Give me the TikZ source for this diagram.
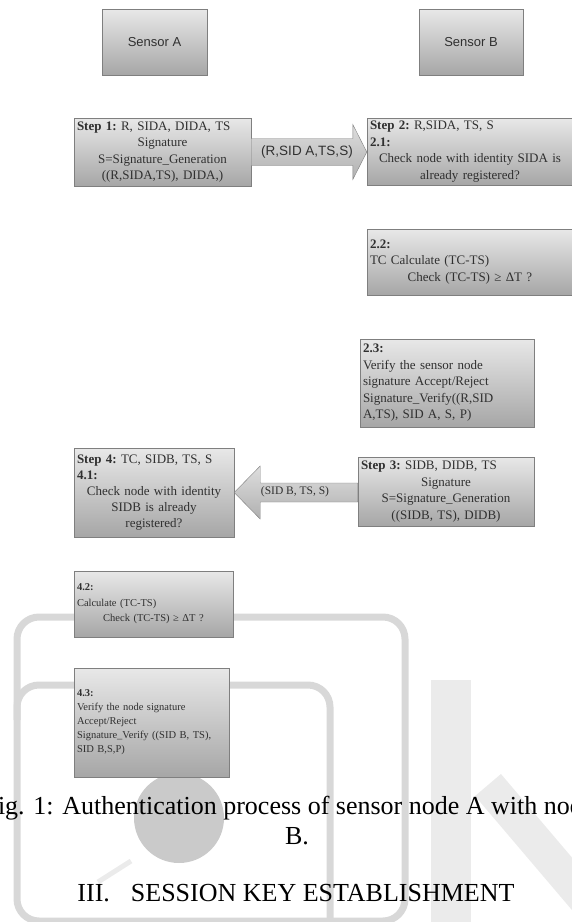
\documentclass[tikz,border=0pt]{standalone}
\usepackage{fontspec}
\setmainfont{Liberation Serif}
\setsansfont{Liberation Sans}
\usepackage{tikz}
\usetikzlibrary{calc}

\definecolor{boxtop}{HTML}{E8E8E8}
\definecolor{boxbot}{HTML}{A6A6A6}
\definecolor{boxline}{HTML}{7F7F7F}
\definecolor{arrtop}{HTML}{DEDEDE}
\definecolor{arrbot}{HTML}{B0B0B0}
\definecolor{inktext}{HTML}{303030}
\definecolor{wm}{HTML}{D8D8D8}
\definecolor{wmlight}{HTML}{EBEBEB}
\definecolor{wmdisc}{HTML}{CACACA}

\begin{document}
\begin{tikzpicture}[x=1pt, y=-1pt,
    sensorbox/.style={draw=boxline, top color=boxtop, bottom color=boxbot, minimum width=105pt, minimum height=66pt, font=\sffamily\fontsize{13}{15}\selectfont, text=inktext},
    stepbox/.style={draw=boxline, top color=boxtop, bottom color=boxbot, inner xsep=3pt, inner ysep=2pt, align=left, font=\fontsize{13}{16.5}\selectfont, text=inktext, execute at begin node={\parindent=0pt\frenchspacing}},
    smallbox/.style={stepbox, font=\fontsize{10.5}{14}\selectfont},
    blockarrow/.style={draw=boxline, top color=arrtop, bottom color=arrbot},
    wmline/.style={draw=wm, line width=7pt, rounded corners=22pt}
]
\useasboundingbox (0,0) rectangle (572,922);
\clip (0,0) rectangle (572,922);

% watermark
\draw[wmline] (17,617) rectangle (405,921);
\draw[wmline] (17,720) -- (17,685) -- (330,685) -- (330,930);
\fill[wmlight] (431,680) rectangle (471,930);
\draw[wmlight, line width=34pt] (488,785) -- (590,905);
\fill[wmdisc] (179,818) circle[radius=45];
\draw[wmlight, line width=5pt] (98,882) -- (131,861);

\node[sensorbox] (sa) at (154.5,42) {Sensor A};
\node[sensorbox, minimum width=104pt] (sb) at (471,42) {Sensor B};

\node[stepbox, text width=171pt, minimum height=68pt] (s1) at (162.5,152) {\textbf{Step 1:} R, SIDA, DIDA, TS\par\centering Signature\\S=Signature\_Generation\\((R,SIDA,TS), DIDA,)\par};
\node[stepbox, text width=200pt, minimum height=67pt] (s2) at (470,151.5) {\textbf{Step 2:} R,SIDA, TS, S\\\textbf{2.1:}\par\centering Check node with identity SIDA is\\already registered?\par};
\node[stepbox, text width=200pt, minimum height=66pt] (c22) at (470,262) {\textbf{2.2:}\\TC Calculate (TC-TS)\par\centering Check (TC-TS) ≥ ΔT ?\par};
\node[stepbox, text width=168pt, minimum height=88pt] (c23) at (447,383) {\textbf{2.3:}\\Verify the sensor node\\signature Accept/Reject\\Signature\_Verify((R,SID\\A,TS), SID A, S, P)};
\node[stepbox, text width=170pt, minimum height=69pt] (s3) at (446,491.5) {\textbf{Step 3:} SIDB, DIDB, TS\par\centering Signature\\S=Signature\_Generation\\((SIDB, TS), DIDB)\par};
\node[stepbox, text width=154pt, minimum height=89pt, font=\fontsize{13}{16}\selectfont] (s4) at (154,492.5) {\textbf{Step 4:} TC, SIDB, TS, S\\\textbf{4.1:}\par\centering Check node with identity\\SIDB is already\\registered?\par};
\node[smallbox, text width=153pt, minimum height=66pt, font=\fontsize{10.5}{15.5}\selectfont] (c42) at (153.5,604) {\textbf{4.2:}\\Calculate (TC-TS)\par\centering Check (TC-TS) ≥ ΔT ?\par};
\node[smallbox, text width=149pt, minimum height=109pt] (c43) at (151.5,722.5) {\textbf{4.3:}\\Verify the node signature\\Accept/Reject\\Signature\_Verify ((SID B, TS),\\SID B,S,P)};

% block arrows
\draw[blockarrow] ($(s1.east)+(0,-13.5)$) -- ($(s2.west |- s1.east)+(-14,-13.5)$) -- ++(0,-14) -- (s2.west |- s1.east) -- ++(-14,27.5) -- ++(0,-14) -- ($(s1.east)+(0,13.5)$) -- cycle;
\draw[blockarrow] ($(s3.west |- s4.east)+(0,-9.5)$) -- ($(s4.east)+(26,-9.5)$) -- ++(0,-17) -- (s4.east) -- ++(26,26.5) -- ++(0,-17) -- ($(s3.west |- s4.east)+(0,9.5)$) -- cycle;
\node[font=\sffamily\fontsize{13.5}{16}\selectfont, text=inktext] (l1) at ($($(s1.east)!0.5!(s2.west)$)+(-2,0)$) {(R,SID A,TS,S)};
\node[font=\fontsize{11.5}{14}\selectfont, text=inktext] (l2) at ($($(s3.west)!0.5!(s4.east)$)+(-1,0)$) {(SID B, TS, S)};

% caption
\node[anchor=base, font=\fontsize{26}{30}\selectfont] (cap) at (289,814) {Fig. 1: Authentication process of sensor node A with node};
\node[anchor=base, font=\fontsize{26}{30}\selectfont] (capb) at (297,844) {B.};
\node[anchor=base, font=\fontsize{26}{30}\selectfont] (sec) at (296,901) {III.\hspace{21pt}SESSION KEY ESTABLISHMENT};
\end{tikzpicture}
\end{document}
